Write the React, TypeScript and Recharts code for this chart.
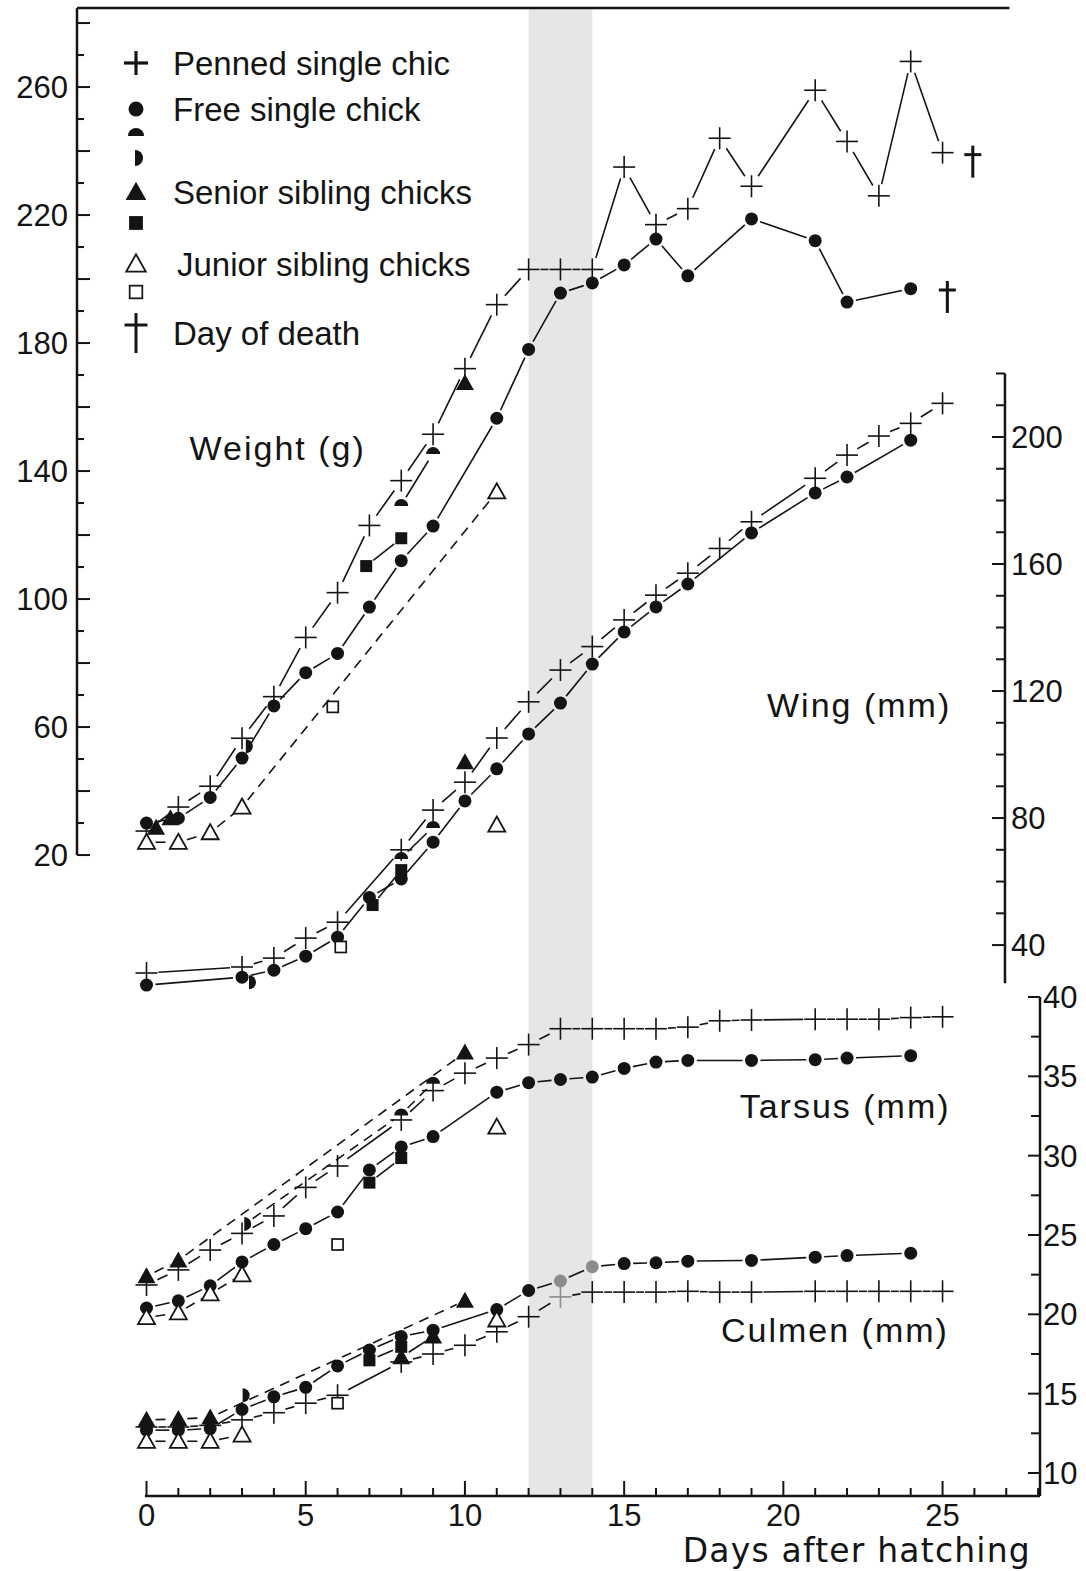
import React from 'react'
import {
  ComposedChart, Scatter, XAxis, YAxis, ReferenceArea, ReferenceLine, ReferenceDot, Legend,
} from 'recharts'

// ---- weight (g), left axis ----
const penWeight = [[0, 27.5], [1, 35], [2, 41.5], [3, 56.5], [4, 69.5], [5, 88], [6, 102], [7, 123], [8, 137], [9, 151.5], [10, 172], [11, 192], [12, 203], [13, 203], [14, 203], [15, 235], [16, 217], [17, 222], [18, 244], [19, 229], [21, 259], [22, 243], [23, 226], [24, 268], [25, 239.5]]
const freeWeight = [[0, 30], [1, 31.5], [2, 38], [3, 50.3], [4, 66.6], [5, 77], [6, 83], [7, 97.5], [8, 112], [9, 122.8], [11, 156.5], [12, 178], [13, 195.6], [14, 198.8], [15, 204.4], [16, 212.5], [17, 201], [19, 218.8], [21, 212], [22, 192.8], [24, 197]]
const halfTopWeight = [[8, 129.4], [9, 145.6]]
const halfRightWeight = [[3.15, 54]]
const seniorWeight = [[0.3, 28.5], [0.75, 31.5], [10, 167.5]]
const squareWeight = [[6.9, 110.3], [8, 119]]
const juniorWeight = [[0, 24], [1, 24], [2, 27], [3, 35], [11, 133.5]]
const openSquareWeight = [[5.85, 66.3]]
const deathWeight = [[25.95, 237], [25.15, 194.7]]

// ---- wing (mm), inner right axis ----
const penWing = [[0, 31.2], [3, 33.1], [4, 35.9], [5, 42.2], [6, 47.2], [8, 70], [9, 82.5], [10, 91.3], [11, 105.2], [12, 116.6], [13, 126.6], [14, 134], [15, 142.4], [16, 150.2], [17, 157.1], [18, 164.9], [19, 173.3], [21, 187], [22, 194.3], [23, 200.3], [24, 204.3], [25, 210.6]]
const freeWing = [[0, 27.4], [3, 29.9], [4, 32.1], [5, 36.5], [6, 42.5], [7, 55], [8, 60.8], [9, 72.4], [10, 85.4], [11, 95.5], [12, 106.5], [13, 116.2], [14, 128.5], [15, 138.6], [16, 146.5], [17, 153.7], [19, 169.8], [21, 182.4], [22, 187.4], [24, 199]]
const halfTopWing = [[8, 67.4], [9, 77.2]]
const halfRightWing = [[3.25, 28.3]]
const seniorWing = [[10, 97.6]]
const squareWing = [[7.1, 52.6], [8, 63.6]]
const juniorWing = [[11, 77.8]]
const openSquareWing = [[6.1, 39.4]]

// ---- tarsus (mm), outer right axis ----
const penTarsus = [[0, 21.85], [1, 22.8], [2, 24.05], [3, 25.1], [4, 26.2], [5, 28], [6, 29.35], [8, 32.25], [9, 34.1], [10, 35.2], [11, 36.15], [12, 37], [13, 38], [14, 38], [15, 38], [16, 38], [17, 38.1], [18, 38.5], [19, 38.55], [21, 38.6], [22, 38.6], [23, 38.6], [24, 38.7], [25, 38.75]]
const freeTarsus = [[0, 20.4], [1, 20.85], [2, 21.8], [3, 23.3], [4, 24.4], [5, 25.4], [6, 26.45], [7, 29.1], [8, 30.55], [9, 31.2], [11, 34], [12, 34.6], [13, 34.8], [14, 34.95], [15, 35.5], [16, 35.9], [17, 36], [19, 36], [21, 36.05], [22, 36.15], [24, 36.3]]
const seniorTarsus = [[0, 22.4], [1, 23.4], [10, 36.5]]
const halfTarsus = [[3.1, 25.7], [8, 32.6], [9, 34.6]]
const squareTarsus = [[7, 28.3], [8, 29.85]]
const juniorTarsus = [[0, 19.8], [1, 20.1], [2, 21.3], [3, 22.5]]
const juniorTarsusLate = [[11, 31.8]]
const openSquareTarsus = [[6, 24.4]]

// ---- culmen (mm), outer right axis ----
const penCulmen = [[0, 12.9], [1, 12.9], [2, 13], [3, 13.35], [4, 13.8], [5, 14.4], [6, 14.9], [8, 17], [9, 17.5], [10, 18.05], [11, 18.9], [12, 19.85], [13, 21.1], [14, 21.4], [15, 21.4], [16, 21.4], [17, 21.45], [18, 21.4], [19, 21.4], [21, 21.45], [22, 21.45], [23, 21.45], [24, 21.45], [25, 21.45]]
const freeCulmen = [[0, 12.7], [1, 12.7], [2, 12.8], [3, 14], [4, 14.8], [5, 15.4], [6, 16.75], [7, 17.75], [8, 18.6], [9, 19], [11, 20.3], [12, 21.5], [13, 22.1], [14, 23], [15, 23.2], [16, 23.25], [17, 23.35], [19, 23.4], [21, 23.6], [22, 23.7], [24, 23.85]]
const seniorCulmen = [[0, 13.35], [1, 13.4], [2, 13.5], [10, 20.85]]
const seniorCulmenMid = [[8, 17.3], [9, 18.6]]
const halfCulmen = [[3.05, 14.9]]
const squareCulmen = [[7, 17.1], [8, 17.95]]
const juniorCulmen = [[0, 12], [1, 12], [2, 12], [3, 12.4]]
const juniorCulmenLate = [[11, 19.65]]
const openSquareCulmen = [[6, 14.4]]

// ticks
const dayTicks = [0, 1, 2, 3, 4, 5, 6, 7, 8, 9, 10, 11, 12, 13, 14, 15, 16, 17, 18, 19, 20, 21, 22, 23, 24, 25, 26, 27, 28]
const weightTicks = [20, 30, 40, 50, 60, 70, 80, 90, 100, 110, 120, 130, 140, 150, 160, 170, 180, 190, 200, 210, 220, 230, 240, 250, 260, 270, 280]
const wingTicks = [40, 50, 60, 70, 80, 90, 100, 110, 120, 130, 140, 150, 160, 170, 180, 190, 200, 210, 220]
const lengthTicks = [10, 12.5, 15, 17.5, 20, 22.5, 25, 27.5, 30, 32.5, 35, 37.5, 40]

// frame of the figure
const X_DOMAIN = [-2.183, 28.06]
const W_DOMAIN = [-180.3, 284.7]
const WING_DOMAIN = [-133.5, 335.1]
const T_DOMAIN = [8.55, 102.33]
const WING_AXIS_DAY = 26.96
const PX_PER_DAY = 31.84

const INK = '#141414'
const GREY = '#8c8c8c'
const FONT = '"Liberation Sans", Arial, Helvetica, sans-serif'
const WIDE_FONT = '"DejaVu Sans", "Liberation Sans", sans-serif'

const toPts = (a: number[][]) => a.map(([day, v]) => ({ day, v }))

function drawMarker(kind: string, cx: number, cy: number, color = INK, legend = false) {
  const k = legend ? 1.15 : 1
  switch (kind) {
    case 'plus': {
      const h = legend ? 12 : 11
      return (
        <g stroke={color} strokeWidth={legend ? 3.2 : 1.6}>
          <line x1={cx - h} y1={cy} x2={cx + h} y2={cy} />
          <line x1={cx} y1={cy - h} x2={cx} y2={cy + h} />
        </g>
      )
    }
    case 'dot':
      return <circle cx={cx} cy={cy} r={6.5 * k} fill={color} />
    case 'halfTop': {
      const r = 7 * k
      return <path d={`M${cx - r},${cy + 1} A${r},${r} 0 0 1 ${cx + r},${cy + 1} Z`} fill={color} />
    }
    case 'halfRight': {
      const r = 7 * k
      return <path d={`M${cx - 1},${cy - r} A${r},${r} 0 0 1 ${cx - 1},${cy + r} Z`} fill={color} />
    }
    case 'tri': {
      const a = 9 * k
      return <polygon points={`${cx},${cy - a} ${cx + a},${cy + a * 0.78} ${cx - a},${cy + a * 0.78}`} fill={color} />
    }
    case 'square': {
      const a = 6 * k
      return <rect x={cx - a} y={cy - a} width={2 * a} height={2 * a} fill={color} />
    }
    case 'openTri': {
      const a = 8.5 * k
      return <polygon points={`${cx},${cy - a} ${cx + a},${cy + a * 0.78} ${cx - a},${cy + a * 0.78}`} fill="#fff" stroke={color} strokeWidth={1.8} />
    }
    case 'openSquare': {
      const a = 5.5 * k
      return <rect x={cx - a} y={cy - a} width={2 * a} height={2 * a} fill="#fff" stroke={color} strokeWidth={1.7} />
    }
    case 'dagger': {
      const top = legend ? 20 : 15
      const bot = legend ? 20 : 17
      const arm = legend ? 11.5 : 8.5
      const bar = legend ? 12 : 9
      return (
        <g stroke={color} strokeWidth={3}>
          <line x1={cx} y1={cy - top} x2={cx} y2={cy + bot} />
          <line x1={cx - arm} y1={cy - top + bar} x2={cx + arm} y2={cy - top + bar} />
        </g>
      )
    }
    default:
      return null
  }
}

// the figure breaks each connecting line short of the symbols
const gapLine = (dash: string | undefined, gap: number) => (props: any) => {
  const pts = props.points || []
  const segs: React.ReactNode[] = []
  for (let i = 1; i < pts.length; i++) {
    const a = pts[i - 1]
    const b = pts[i]
    const dx = b.x - a.x
    const dy = b.y - a.y
    const len = Math.hypot(dx, dy)
    if (len <= gap * 2 + 2) continue
    const ux = dx / len
    const uy = dy / len
    segs.push(
      <line key={i} x1={a.x + ux * gap} y1={a.y + uy * gap} x2={b.x - ux * gap} y2={b.y - uy * gap}
        stroke={INK} strokeWidth={1.6} strokeDasharray={dash} />,
    )
  }
  return <g>{segs}</g>
}

type SeriesDef = { pts: number[][]; axis: string; marker: string; line?: 'solid' | 'dash'; grey?: number[] }

const SERIES: SeriesDef[] = [
  { pts: penWeight, axis: 'w', marker: 'plus', line: 'solid' },
  { pts: freeWeight, axis: 'w', marker: 'dot', line: 'solid' },
  { pts: halfTopWeight, axis: 'w', marker: 'halfTop', line: 'solid' },
  { pts: halfRightWeight, axis: 'w', marker: 'halfRight' },
  { pts: seniorWeight, axis: 'w', marker: 'tri' },
  { pts: squareWeight, axis: 'w', marker: 'square', line: 'solid' },
  { pts: juniorWeight, axis: 'w', marker: 'openTri', line: 'dash' },
  { pts: openSquareWeight, axis: 'w', marker: 'openSquare' },
  { pts: deathWeight, axis: 'w', marker: 'dagger' },

  { pts: penWing, axis: 'wing', marker: 'plus', line: 'solid' },
  { pts: freeWing, axis: 'wing', marker: 'dot', line: 'solid' },
  { pts: halfTopWing, axis: 'wing', marker: 'halfTop', line: 'solid' },
  { pts: halfRightWing, axis: 'wing', marker: 'halfRight' },
  { pts: seniorWing, axis: 'wing', marker: 'tri' },
  { pts: squareWing, axis: 'wing', marker: 'square', line: 'solid' },
  { pts: juniorWing, axis: 'wing', marker: 'openTri' },
  { pts: openSquareWing, axis: 'wing', marker: 'openSquare' },

  { pts: penTarsus, axis: 't', marker: 'plus', line: 'solid' },
  { pts: freeTarsus, axis: 't', marker: 'dot', line: 'solid' },
  { pts: seniorTarsus, axis: 't', marker: 'tri', line: 'dash' },
  { pts: halfTarsus, axis: 't', marker: 'halfMixed', line: 'dash' },
  { pts: squareTarsus, axis: 't', marker: 'square', line: 'solid' },
  { pts: juniorTarsus, axis: 't', marker: 'openTri', line: 'dash' },
  { pts: juniorTarsusLate, axis: 't', marker: 'openTri' },
  { pts: openSquareTarsus, axis: 't', marker: 'openSquare' },

  { pts: penCulmen, axis: 't', marker: 'plus', line: 'solid', grey: [13] },
  { pts: freeCulmen, axis: 't', marker: 'dot', line: 'solid', grey: [13, 14] },
  { pts: seniorCulmen, axis: 't', marker: 'tri', line: 'dash' },
  { pts: seniorCulmenMid, axis: 't', marker: 'tri', line: 'solid' },
  { pts: halfCulmen, axis: 't', marker: 'halfRight' },
  { pts: squareCulmen, axis: 't', marker: 'square', line: 'solid' },
  { pts: juniorCulmen, axis: 't', marker: 'openTri', line: 'dash' },
  { pts: juniorCulmenLate, axis: 't', marker: 'openTri' },
  { pts: openSquareCulmen, axis: 't', marker: 'openSquare' },
]

const markerShape = (s: SeriesDef) => (props: any) => {
  const { cx, cy, payload } = props
  if (cx == null || cy == null) return <g />
  const color = s.grey && s.grey.includes(payload.day) ? GREY : INK
  const kind = s.marker === 'halfMixed' ? (payload.day < 5 ? 'halfRight' : 'halfTop') : s.marker
  return <g>{drawMarker(kind, cx, cy, color)}</g>
}

const LEGEND_ROWS = [
  { m: 'plus', y: 63, text: 'Penned single chic', tx: 173 },
  { m: 'dot', y: 109, text: 'Free single chick', tx: 173 },
  { m: 'halfTop', y: 135, text: '', tx: 0 },
  { m: 'halfRight', y: 158, text: '', tx: 0 },
  { m: 'tri', y: 192, text: 'Senior sibling chicks', tx: 173 },
  { m: 'square', y: 223, text: '', tx: 0 },
  { m: 'openTri', y: 264, text: 'Junior sibling chicks', tx: 177 },
  { m: 'openSquare', y: 292, text: '', tx: 0 },
  { m: 'dagger', y: 333, text: 'Day of death', tx: 173 },
]

const renderLegend = () => (
  <svg width={520} height={370} style={{ display: 'block', overflow: 'visible' }}>
    {LEGEND_ROWS.map((r) => (
      <g key={r.m}>
        {drawMarker(r.m, 136, r.y, INK, true)}
        {r.text && (
          <text x={r.tx} y={r.y + 12} fontSize={33} fontFamily={FONT} fill={INK}>{r.text}</text>
        )}
      </g>
    ))}
  </svg>
)

const tickText = { fontSize: 31, fontFamily: FONT, fill: INK }

const WeightTick = (p: any) => {
  const v = p.payload.value
  const len = v % 20 === 0 ? 13 : 7
  return (
    <g>
      <line x1={p.x} y1={p.y} x2={p.x + len} y2={p.y} stroke={INK} strokeWidth={2} />
      {v % 40 === 20 && <text x={p.x - 9} y={p.y + 11} textAnchor="end" {...tickText}>{v}</text>}
    </g>
  )
}

const LengthTick = (p: any) => {
  const v = p.payload.value
  const len = v % 5 === 0 ? 12 : 9
  return (
    <g>
      <line x1={p.x} y1={p.y} x2={p.x - len} y2={p.y} stroke={INK} strokeWidth={2} />
      {v % 5 === 0 && <text x={p.x + 3} y={p.y + 11} textAnchor="start" {...tickText}>{v}</text>}
    </g>
  )
}

const DayTick = (p: any) => {
  const v = p.payload.value
  const len = v % 5 === 0 ? 15 : 8
  return (
    <g>
      <line x1={p.x} y1={p.y} x2={p.x} y2={p.y - len} stroke={INK} strokeWidth={2} />
      {v % 5 === 0 && v <= 25 && <text x={p.x} y={p.y + 30} textAnchor="middle" {...tickText}>{v}</text>}
    </g>
  )
}

const titleStyle = { fontSize: 34, fontFamily: FONT, fill: INK, letterSpacing: 2 }

export default function App() {
  return (
    <div style={{ position: 'absolute', left: 0, top: 0 }}>
      <ComposedChart width={1086} height={1571} margin={{ top: 8, right: 0, bottom: 0, left: 0 }}>
        <XAxis
          xAxisId={0}
          type="number"
          dataKey="day"
          domain={X_DOMAIN}
          allowDataOverflow
          ticks={dayTicks}
          interval={0}
          height={75}
          axisLine={false}
          tickLine={false}
          tickSize={0}
          tickMargin={0}
          tick={DayTick}
          label={{ value: 'Days after hatching', position: 'insideBottomRight', offset: 9, fontSize: 33, fontFamily: WIDE_FONT, fill: INK, letterSpacing: 1.2 }}
        />
        <YAxis
          yAxisId="w"
          type="number"
          dataKey="v"
          orientation="left"
          width={77}
          domain={W_DOMAIN}
          allowDataOverflow
          ticks={weightTicks}
          interval={0}
          axisLine={false}
          tickLine={false}
          tickSize={0}
          tickMargin={0}
          tick={WeightTick}
        />
        <YAxis
          yAxisId="t"
          type="number"
          dataKey="v"
          orientation="right"
          width={46}
          domain={T_DOMAIN}
          allowDataOverflow
          ticks={lengthTicks}
          interval={0}
          axisLine={false}
          tickLine={false}
          tickSize={0}
          tickMargin={0}
          tick={LengthTick}
        />
        <YAxis yAxisId="wing" type="number" dataKey="v" hide domain={WING_DOMAIN} allowDataOverflow />

        <ReferenceArea yAxisId="w" x1={12} x2={14} y1={W_DOMAIN[0]} y2={W_DOMAIN[1]} fill="#e6e6e6" fillOpacity={1} stroke="none" ifOverflow="visible" />

        {/* frame: weight axis, top rule, day axis, length axis */}
        <ReferenceLine yAxisId="w" segment={[{ x: X_DOMAIN[0], y: 20 }, { x: X_DOMAIN[0], y: W_DOMAIN[1] }]} stroke={INK} strokeWidth={2.5} ifOverflow="visible" />
        <ReferenceLine yAxisId="w" segment={[{ x: X_DOMAIN[0], y: W_DOMAIN[1] }, { x: 27.1, y: W_DOMAIN[1] }]} stroke={INK} strokeWidth={2.5} ifOverflow="visible" />
        <ReferenceLine yAxisId="t" segment={[{ x: -0.05, y: T_DOMAIN[0] }, { x: X_DOMAIN[1], y: T_DOMAIN[0] }]} stroke={INK} strokeWidth={2.5} ifOverflow="visible" />
        <ReferenceLine yAxisId="t" segment={[{ x: X_DOMAIN[1], y: T_DOMAIN[0] }, { x: X_DOMAIN[1], y: 40 }]} stroke={INK} strokeWidth={2.5} ifOverflow="visible" />

        {/* wing axis sits inside the plot */}
        <ReferenceLine yAxisId="wing" segment={[{ x: WING_AXIS_DAY, y: 28 }, { x: WING_AXIS_DAY, y: 220 }]} stroke={INK} strokeWidth={2.5} ifOverflow="visible" />
        {wingTicks.map((v) => (
          <ReferenceLine
            key={`wt${v}`}
            yAxisId="wing"
            segment={[{ x: WING_AXIS_DAY - (v % 40 === 0 ? 13 : 9) / PX_PER_DAY, y: v }, { x: WING_AXIS_DAY, y: v }]}
            stroke={INK}
            strokeWidth={2}
            ifOverflow="visible"
          />
        ))}
        {wingTicks.filter((v) => v % 40 === 0).map((v) => (
          <ReferenceDot
            key={`wl${v}`}
            yAxisId="wing"
            x={WING_AXIS_DAY}
            y={v}
            r={0}
            fill="none"
            stroke="none"
            ifOverflow="visible"
            label={{ value: String(v), position: 'right', offset: 6, ...tickText }}
          />
        ))}

        {/* measurement titles */}
        <ReferenceDot yAxisId="w" x={4.12} y={147.2} r={0} fill="none" stroke="none" ifOverflow="visible"
          label={{ value: 'Weight (g)', position: 'center', ...titleStyle }} />
        <ReferenceDot yAxisId="wing" x={22.38} y={115.6} r={0} fill="none" stroke="none" ifOverflow="visible"
          label={{ value: 'Wing (mm)', position: 'center', ...titleStyle }} />
        <ReferenceDot yAxisId="t" x={21.94} y={33.13} r={0} fill="none" stroke="none" ifOverflow="visible"
          label={{ value: 'Tarsus (mm)', position: 'center', ...titleStyle }} />
        <ReferenceDot yAxisId="t" x={21.62} y={19.0} r={0} fill="none" stroke="none" ifOverflow="visible"
          label={{ value: 'Culmen (mm)', position: 'center', ...titleStyle }} />

        {SERIES.map((s, i) => (
          <Scatter
            key={`s${i}`}
            yAxisId={s.axis}
            data={toPts(s.pts)}
            fill={INK}
            isAnimationActive={false}
            shape={markerShape(s)}
            line={s.line ? gapLine(s.line === 'dash' ? '10 7' : undefined, s.marker === 'plus' ? 12 : 9) : false}
          />
        ))}

        <Legend content={renderLegend} layout="vertical" align="center" verticalAlign="middle"
          wrapperStyle={{ left: 0, top: 0, width: 520, height: 370 }} />
      </ComposedChart>
    </div>
  )
}
